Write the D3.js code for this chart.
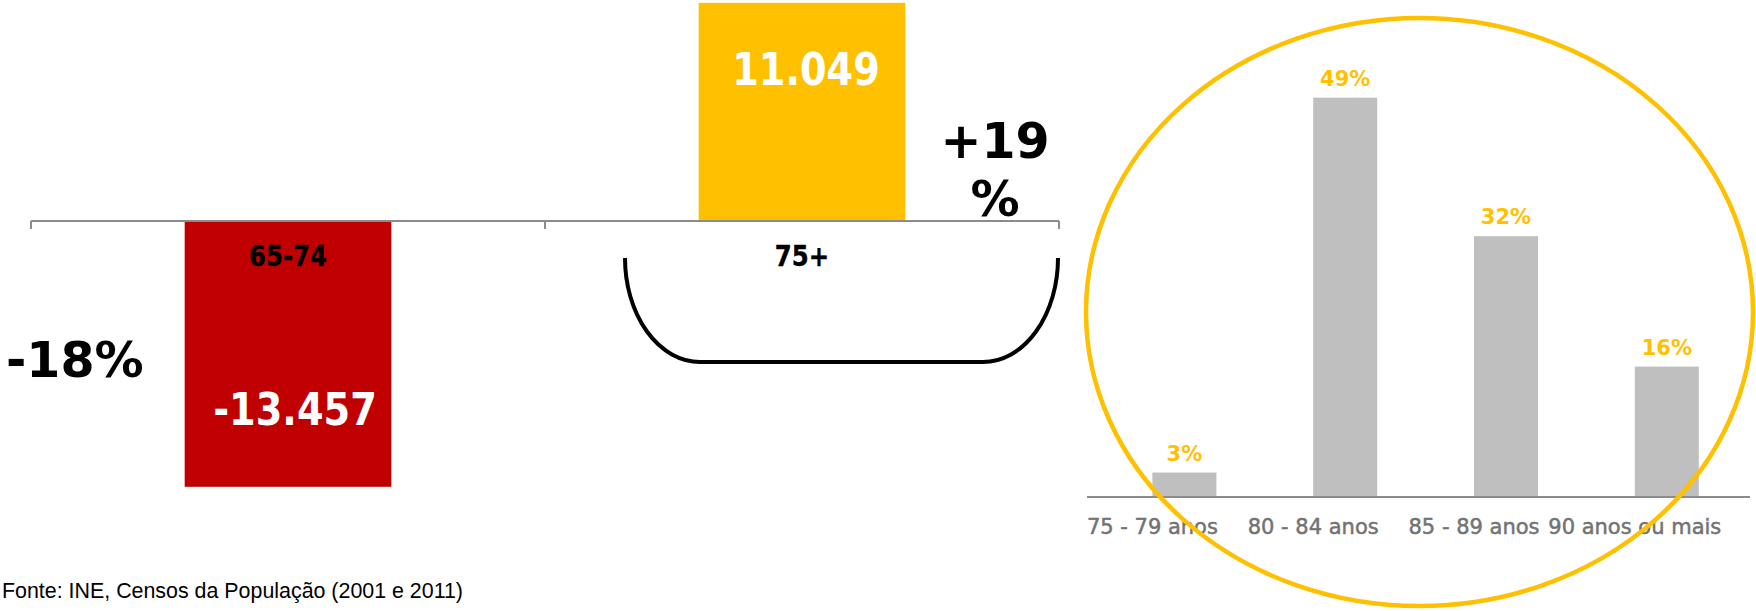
<!DOCTYPE html>
<html>
<head>
<meta charset="utf-8">
<script src="https://cdn.jsdelivr.net/npm/d3@7"></script>
<style>
  html, body { margin: 0; padding: 0; background: #ffffff; }
  svg { display: block; }
</style>
</head>
<body>
<svg id="chart" width="1756" height="611"></svg>
<script>
// ---------- data ----------
const leftCategories = ["65-74", "75+"];
const leftValues = [-13457, 11049];
const leftValueLabels = ["-13.457", "11.049"];
const leftChangeLabels = ["-18%", "+19 %"];

const rightCategories = ["75 - 79 anos", "80 - 84 anos", "85 - 89 anos", "90 anos ou mais"];
const rightValues = [3, 49, 32, 16];
const rightValueLabels = ["3%", "49%", "32%", "16%"];

const sourceText = "Fonte: INE, Censos da População (2001 e 2011)";

// ---------- styles ----------
const RED = "#C00000", YELLOW = "#FFC000", GREY_BAR = "#BFBFBF", AXIS = "#8C8C8C";
const BOLD = "'DejaVu Sans', Verdana, sans-serif";

const svg = d3.select("#chart");

// ================= LEFT CHART =================
const xL = d3.scaleBand().domain(leftCategories).range([31, 1059]).padding(0);
const yL = d3.scaleLinear().domain([-13457, 11049]).range([486.8, 2.8]);
const barFrac = 0.402;
const bwL = xL.bandwidth() * barFrac;
const cxL = c => xL(c) + xL.bandwidth() / 2;
const y0L = yL(0);

const left = svg.append("g");

left.selectAll("rect.bar")
  .data(leftCategories)
  .join("rect")
  .attr("class", "bar")
  .attr("x", c => cxL(c) - bwL / 2)
  .attr("width", bwL)
  .attr("y", (c, i) => Math.min(yL(leftValues[i]), y0L))
  .attr("height", (c, i) => Math.abs(yL(leftValues[i]) - y0L))
  .attr("fill", (c, i) => leftValues[i] < 0 ? RED : YELLOW);

// axis: line + boundary ticks
const axisG = left.append("g").attr("transform", `translate(0,${y0L})`);
axisG.call(d3.axisBottom(xL).tickSize(0).tickFormat(""));
axisG.select(".domain").attr("stroke", AXIS).attr("stroke-width", 2).attr("d", `M${xL.range()[0]},0H${xL.range()[1]}`);
const boundaries = leftCategories.map(c => xL(c)).concat([xL.range()[1]]);
axisG.selectAll("line.bt")
  .data(boundaries)
  .join("line")
  .attr("class", "bt")
  .attr("x1", d => d).attr("x2", d => d)
  .attr("y1", 0).attr("y2", 8)
  .attr("stroke", AXIS).attr("stroke-width", 2);

// category labels (below axis)
left.selectAll("text.cat")
  .data(leftCategories)
  .join("text")
  .attr("class", "cat")
  .attr("transform", c => `translate(${cxL(c)},${y0L + 45}) scale(0.84,1)`)
  .attr("text-anchor", "middle")
  .attr("font-family", BOLD).attr("font-weight", "bold").attr("font-size", 29)
  .attr("fill", "#000")
  .attr("stroke", "#000").attr("stroke-width", 0.4)
  .text(c => c);

// value labels inside bars
left.selectAll("text.val")
  .data(leftCategories)
  .join("text")
  .attr("class", "val")
  .attr("transform", (c, i) => {
    const v = leftValues[i];
    const y = v < 0 ? yL(v) - 62 : yL(v) + 82;
    const dx = v < 0 ? 7 : 4;
    return `translate(${cxL(c) + dx},${y}) scale(0.87,1)`;
  })
  .attr("text-anchor", "middle")
  .attr("font-family", BOLD).attr("font-weight", "bold").attr("font-size", 44)
  .attr("fill", "#fff")
  .text((c, i) => leftValueLabels[i]);

// change annotations
left.append("text")
  .attr("x", 6).attr("y", 377)
  .attr("font-family", BOLD).attr("font-weight", "bold").attr("font-size", 49)
  .attr("fill", "#000")
  .text(leftChangeLabels[0]);

const plusParts = leftChangeLabels[1].split(" ");
const plusText = left.append("text")
  .attr("text-anchor", "middle")
  .attr("font-family", BOLD).attr("font-weight", "bold").attr("font-size", 49)
  .attr("fill", "#000");
plusParts.forEach((p, i) => {
  plusText.append("tspan").attr("x", 995).attr("y", 158 + i * 58).text(p);
});

// bracket under 75+
const bx0 = xL("75+") + 80, bx1 = xL("75+") + xL.bandwidth() - 1;
const bTop = 258, bBot = 362, rx = 75, ry = bBot - bTop;
left.append("path")
  .attr("d", `M${bx0},${bTop} A${rx},${ry} 0 0 0 ${bx0 + rx},${bBot} L${bx1 - rx},${bBot} A${rx},${ry} 0 0 0 ${bx1},${bTop}`)
  .attr("fill", "none").attr("stroke", "#000").attr("stroke-width", 4);

// ================= RIGHT CHART =================
const xR = d3.scaleBand().domain(rightCategories).range([1152.4, 1698.8]).paddingInner(0.602).paddingOuter(0);
const yR = d3.scaleLinear().domain([0, 60]).range([497, 8]);
const right = svg.append("g");

right.selectAll("rect.rbar")
  .data(rightCategories)
  .join("rect")
  .attr("class", "rbar")
  .attr("x", c => xR(c))
  .attr("width", xR.bandwidth())
  .attr("y", (c, i) => yR(rightValues[i]))
  .attr("height", (c, i) => yR(0) - yR(rightValues[i]))
  .attr("fill", GREY_BAR);

right.append("line")
  .attr("x1", 1087).attr("x2", 1750)
  .attr("y1", yR(0)).attr("y2", yR(0))
  .attr("stroke", AXIS).attr("stroke-width", 2);

right.selectAll("text.rval")
  .data(rightCategories)
  .join("text")
  .attr("class", "rval")
  .attr("x", c => xR(c) + xR.bandwidth() / 2)
  .attr("y", (c, i) => yR(rightValues[i]) - 12)
  .attr("text-anchor", "middle")
  .attr("font-family", BOLD).attr("font-weight", "bold").attr("font-size", 21)
  .attr("fill", YELLOW)
  .text((c, i) => rightValueLabels[i]);

right.selectAll("text.rcat")
  .data(rightCategories)
  .join("text")
  .attr("class", "rcat")
  .attr("x", c => xR(c) + xR.bandwidth() / 2 - 32)
  .attr("y", yR(0) + 37)
  .attr("text-anchor", "middle")
  .attr("font-family", BOLD).attr("font-size", 21)
  .attr("fill", "#737373")
  .attr("stroke", "#737373").attr("stroke-width", 0.5)
  .text(c => c);

// highlight ellipse
svg.append("ellipse")
  .attr("cx", 1419.5).attr("cy", 312).attr("rx", 333.5).attr("ry", 294)
  .attr("fill", "none").attr("stroke", YELLOW).attr("stroke-width", 4.5);

// ================= SOURCE =================
svg.append("text")
  .attr("x", 2).attr("y", 598)
  .attr("font-family", "'Liberation Sans', Arial, sans-serif").attr("font-size", 21.4)
  .attr("fill", "#000")
  .text(sourceText);
</script>
</body>
</html>
